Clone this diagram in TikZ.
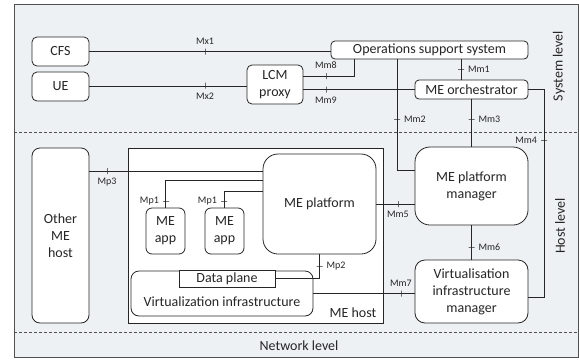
\documentclass[tikz,border=0pt]{standalone}
\usepackage{fontspec}
\setmainfont{Carlito}
\definecolor{panel}{HTML}{EDF1F3}
\definecolor{ink}{HTML}{262626}
\begin{document}
\begin{tikzpicture}[x=1pt,y=-1pt,line width=0.8pt,draw=ink,text=ink,
    box/.style={draw,fill=white,rounded corners=5pt,align=center,inner sep=0pt,
      font=\fontsize{14}{17}\selectfont},
    tickv/.style={draw,inner sep=0pt,minimum width=0pt,minimum height=6pt,
      label distance=0pt,every label/.style={inner sep=1pt,font=\fontsize{11.5}{13}\selectfont}},
    tickh/.style={tickv,minimum width=6pt,minimum height=0pt},
    txt/.style={inner sep=0pt,font=\fontsize{14}{17}\selectfont}]

      \useasboundingbox (0,0) rectangle (579,360);

      % frame and levels
      \path[fill=panel,draw=ink!80] (14,4) rectangle (578.6,357);
      \draw[ink!80,dash pattern=on 3pt off 2pt,line width=0.6pt] (14,132) -- (579,132);
      \draw[ink!80,dash pattern=on 3pt off 2pt,line width=0.6pt] (14,332) -- (579,332);
      \path[draw,fill=white,sharp corners] (128,148) rectangle (383,323);

      \begin{scope}[every node/.style={box}]
        \node[minimum width=57,minimum height=29] (cfs)  at (60.5,51.5)  {CFS};
        \node[minimum width=57,minimum height=29] (ue)   at (60.5,86.5)  {UE};
        \node[minimum width=56,minimum height=39] (lcm)  at (275,84.5)   {LCM\\proxy};
        \node[minimum width=197,minimum height=18,rounded corners=4pt] (oss) at (429.5,50) {Operations support system};
        \node[minimum width=113,minimum height=19,rounded corners=4pt] (orch) at (471.5,89.5) {ME orchestrator};
        \node[minimum width=113,minimum height=78,rounded corners=15pt] (pm) at (471.5,186) {ME platform\\manager};
        \node[minimum width=113,minimum height=63,rounded corners=10pt] (vim) at (471.5,291.5) {Virtualisation\\infrastructure\\manager};
        \node[minimum width=57,minimum height=175,rounded corners=8pt] (other) at (60.5,235.5) {Other\\ME\\host};
        \node[minimum width=113,minimum height=100,rounded corners=15pt] (plat) at (319.5,204) {ME platform};
        \node[minimum width=39,minimum height=46,rounded corners=6pt] (app1) at (165.5,231) {ME\\app};
        \node[minimum width=39,minimum height=46,rounded corners=6pt] (app2) at (224.5,231) {ME\\app};
        \node[minimum width=182,minimum height=45,rounded corners=8pt] (vi) at (222,293.5) {};
        \node[minimum width=96,minimum height=17,sharp corners] (dp) at (227,278.5) {Data plane};
      \end{scope}

      \node[txt] (vitxt)   at (222,302) {Virtualization infrastructure};
      \node[txt] (hosttxt) at (353,313) {ME host};
      \node[txt,rotate=90] (syslvl)  at (559,66)  {System level};
      \node[txt,rotate=90] (hostlvl) at (560,226) {Host level};
      \node[txt] (netlvl)  at (299,346) {Network level};

      \coordinate (m4) at (544,297);

      % reference points
      \draw (cfs.east) -- (cfs.east -| oss.west);
      \draw (ue.east) -- (ue.east -| lcm.west);
      \draw (lcm.east |- 0,76) -| ([xshift=-75.5]oss.south);
      \draw (lcm.east |- orch.west) -- (orch.west);
      \draw ([xshift=31.5]oss.south) -- ([xshift=-10.5]orch.north);
      \draw ([xshift=-32.5]oss.south) |- ([yshift=16]pm.west);
      \draw (orch.south) -- (pm.north);
      \draw (orch.east) -| (m4) -- (m4 -| vim.east);
      \draw (plat.east) -- (plat.east -| pm.west);
      \draw (pm.south) -- (vim.north);
      \draw (vi.east) -- (vi.east -| vim.west);
      \draw (other.east |- 0,171) -- (plat.west |- 0,171);
      \draw (app1.north) |- (plat.west |- 0,180);
      \draw (app2.north) |- (plat.west |- 0,191);
      \draw (dp.east) -| (plat.south);

      \begin{scope}[every node/.style={}]
        \node[tickv,label=above:Mx1] (mx1) at (205,51.5) {};
        \node[tickv,label=below:Mx2] (mx2) at (205,85.5) {};
        \node[tickv,label=above:Mm8] (mm8) at (326,76) {};
        \node[tickv,label=below:Mm9] (mm9) at (326,89.5) {};
        \node[tickh,label=right:Mm1] (mm1) at (461,69) {};
        \node[tickh,label=right:Mm2] (mm2) at (397,119) {};
        \node[tickh,label=right:Mm3] (mm3) at (471.5,119) {};
        \node[tickh,label=left:Mm4]  (mm4) at (544,140) {};
        \node[tickv,label=below:Mm5] (mm5) at (398,204) {};
        \node[tickh,label=right:Mm6] (mm6) at (471.5,247) {};
        \node[tickv,label=above:Mm7] (mm7) at (401,293.5) {};
        \node[tickv,label=below:Mp3] (mp3) at (107,171) {};
        \node[tickh,label=left:Mp1]  (mp1a) at (166,201) {};
        \node[tickh,label=left:Mp1]  (mp1b) at (224,201) {};
        \node[tickh,label=right:Mp2] (mp2) at (319.5,266) {};
      \end{scope}

    \end{tikzpicture}
\end{document}
